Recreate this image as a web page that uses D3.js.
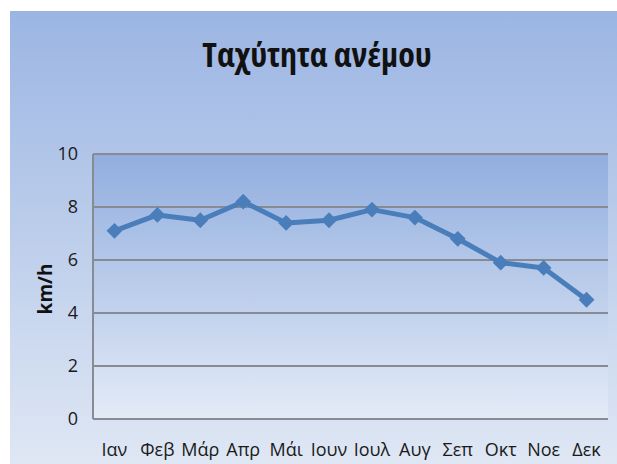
<!DOCTYPE html>
<html>
<head>
<meta charset="utf-8">
<script src="https://cdn.jsdelivr.net/npm/d3@7"></script>
<style>
  html, body { margin: 0; padding: 0; background: #fff; }
  svg { display: block; }
</style>
</head>
<body>
<svg id="chart" width="617" height="464"></svg>
<script>
// wind speed chart, monthly averages

const WIDTH = 617;
const HEIGHT = 464;
const FONT = "'Open Sans', 'DejaVu Sans', sans-serif";

const months = ["Ιαν", "Φεβ", "Μάρ", "Απρ", "Μάι", "Ιουν", "Ιουλ", "Αυγ", "Σεπ", "Οκτ", "Νοε", "Δεκ"];
const speeds = [7.1, 7.7, 7.5, 8.2, 7.4, 7.5, 7.9, 7.6, 6.8, 5.9, 5.7, 4.5];
const yTicks = [0, 2, 4, 6, 8, 10];

const margin = { left: 93, top: 154, right: 9, bottom: 45 };

const svg = d3.select("#chart");
const defs = svg.append("defs");

function gradient(id, top, bottom) {
  let g = defs.append("linearGradient")
    .attr("id", id)
    .attr("x1", 0).attr("y1", 0)
    .attr("x2", 0).attr("y2", 1);
  g.append("stop").attr("offset", "0%").attr("stop-color", top);
  g.append("stop").attr("offset", "100%").attr("stop-color", bottom);
}
gradient("bg", "#9bb5e3", "#dfe7f4");
gradient("plotbg", "#91aedf", "#e4ebf6");

// outer background
svg.append("rect")
  .attr("x", 10).attr("y", 11)
  .attr("width", WIDTH - 10).attr("height", HEIGHT - 11)
  .style("fill", "url(#bg)");

const x = d3.scaleBand()
  .domain(months)
  .range([margin.left, WIDTH - margin.right]);

const y = d3.scaleLinear()
  .domain([0, 10])
  .range([HEIGHT - margin.bottom, margin.top]);

// plot area
svg.append("rect")
  .attr("x", margin.left).attr("y", y(10))
  .attr("width", WIDTH - margin.right - margin.left)
  .attr("height", y(0) - y(10))
  .style("fill", "url(#plotbg)");

// grid lines
svg.append("g")
  .selectAll("line")
  .data(yTicks)
  .enter()
  .append("line")
  .attr("x1", margin.left).attr("x2", WIDTH - margin.right)
  .attr("y1", d => y(d)).attr("y2", d => y(d))
  .style("stroke", "#868b94")
  .style("stroke-width", 2);

// y axis
const yAxis = svg.append("g")
  .attr("transform", "translate(" + margin.left + ",0)")
  .call(d3.axisLeft(y).tickValues(yTicks).tickSize(0).tickPadding(15));
yAxis.select(".domain")
  .attr("d", "M0," + y(10) + "V" + y(0))
  .style("stroke", "#868b94")
  .style("stroke-width", 2);
yAxis.selectAll("text")
  .style("font-family", FONT)
  .style("font-size", "18px")
  .style("font-stretch", "92%")
  .style("fill", "#1a1a1a");

// x axis
const xAxis = svg.append("g")
  .attr("transform", "translate(0," + y(0) + ")")
  .call(d3.axisBottom(x).tickSize(0).tickPadding(24));
xAxis.select(".domain").remove();
xAxis.selectAll("text")
  .style("font-family", FONT)
  .style("font-size", "18px")
  .style("font-stretch", "92%")
  .style("fill", "#1a1a1a");

// title
svg.append("text")
  .attr("x", 317).attr("y", 67)
  .attr("text-anchor", "middle")
  .text("Ταχύτητα ανέμου")
  .style("font-family", FONT)
  .style("font-size", "34px")
  .style("font-weight", "bold")
  .style("font-stretch", "condensed")
  .style("fill", "#111");

// y axis title
svg.append("text")
  .attr("transform", "translate(52,289) rotate(-90)")
  .attr("text-anchor", "middle")
  .text("km/h")
  .style("font-family", FONT)
  .style("font-size", "19px")
  .style("font-weight", "bold")
  .style("fill", "#111");

// series
const cx = d => x(d) + x.bandwidth() / 2;
const line = d3.line()
  .x((d, i) => cx(months[i]))
  .y(d => y(d));

svg.append("path")
  .datum(speeds)
  .attr("d", line)
  .style("fill", "none")
  .style("stroke", "#4a7ebb")
  .style("stroke-width", 5)
  .style("stroke-linejoin", "round");

svg.append("g")
  .selectAll("path")
  .data(speeds)
  .enter()
  .append("path")
  .attr("d", d3.symbol().type(d3.symbolDiamond2).size(160))
  .attr("transform", (d, i) => "translate(" + cx(months[i]) + "," + y(d) + ")")
  .style("fill", "#4a7ebb");
</script>
</body>
</html>
